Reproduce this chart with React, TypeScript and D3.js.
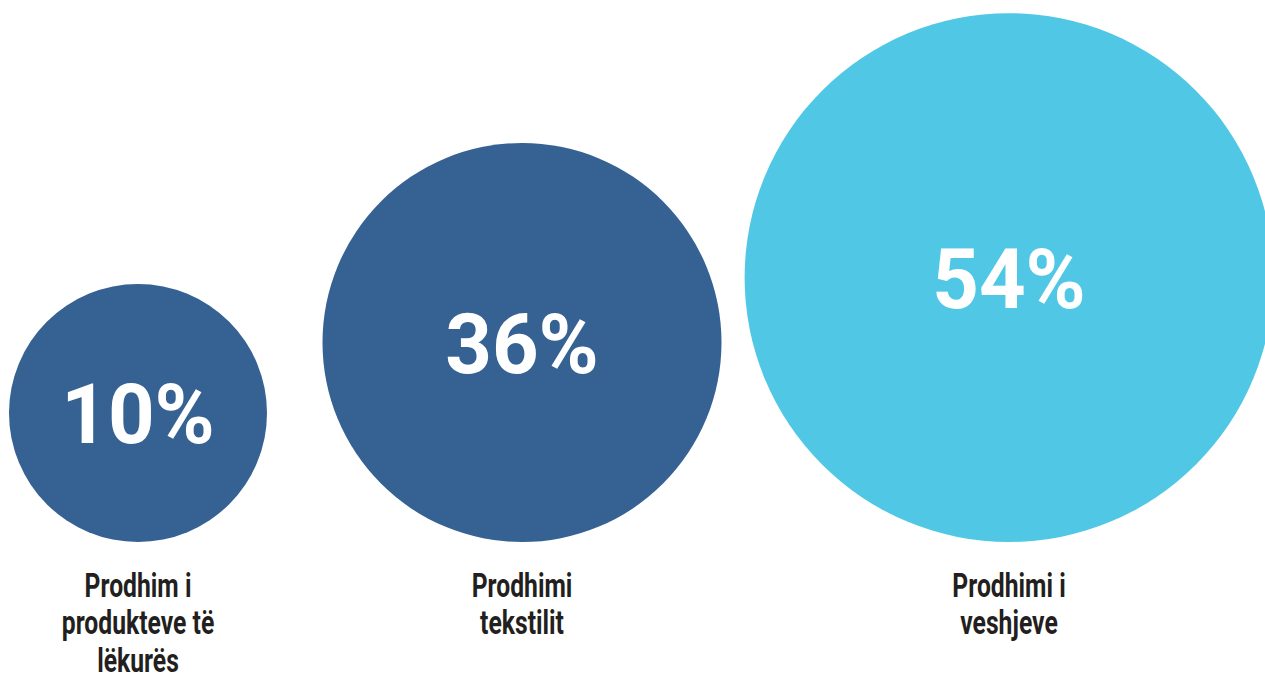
import React from "react";
import * as d3 from "d3";

const categories = ["Prodhim i produkteve të lëkurës", "Prodhimi tekstilit", "Prodhimi i veshjeve"];
const labelLines = [["Prodhim i", "produkteve të", "lëkurës"], ["Prodhimi", "tekstilit"], ["Prodhimi i", "veshjeve"]];
const values = [10, 36, 54];
const colors = ["#356193", "#356193", "#50c8e5"];

const W = 1265;
const H = 676;
const baseY = 542;

export default function App() {
  const rScale = d3.scaleLinear().domain([10, 36, 54]).range([129, 199.5, 264.4]);
  const xScale = d3.scaleOrdinal<string, number>().domain(categories).range([138, 522, 1009]);
  const colorScale = d3.scaleOrdinal<string, string>().domain(categories).range(colors);
  const fmt = (v: number) => `${v}%`;

  return (
    <svg width={W} height={H} style={{ position: "absolute", left: 0, top: 0, background: "#fff" }}>
      {categories.map((c, i) => {
        const r = rScale(values[i]);
        const cx = xScale(c);
        const cy = baseY - r;
        return (
          <g key={c}>
            <circle cx={cx} cy={cy} r={r} fill={colorScale(c)} />
            <text
              x={cx}
              y={cy + 30.5}
              textAnchor="middle"
              fill="#fff"
              fontFamily="Roboto, 'Liberation Sans', sans-serif"
              fontWeight={700}
              fontSize={84}
              transform={`translate(${cx},0) scale(0.97,1) translate(${-cx},0)`}
            >
              {fmt(values[i])}
            </text>
            <g transform={`translate(${cx},597) scale(0.76,1)`}>
              {labelLines[i].map((line, j) => (
                <text
                  key={j}
                  x={0}
                  y={j * 37.5}
                  textAnchor="middle"
                  fill="#231f20"
                  fontFamily="Roboto, 'Liberation Sans', sans-serif"
                  fontWeight={700}
                  fontSize={32.5}
                >
                  {line}
                </text>
              ))}
            </g>
          </g>
        );
      })}
    </svg>
  );
}
